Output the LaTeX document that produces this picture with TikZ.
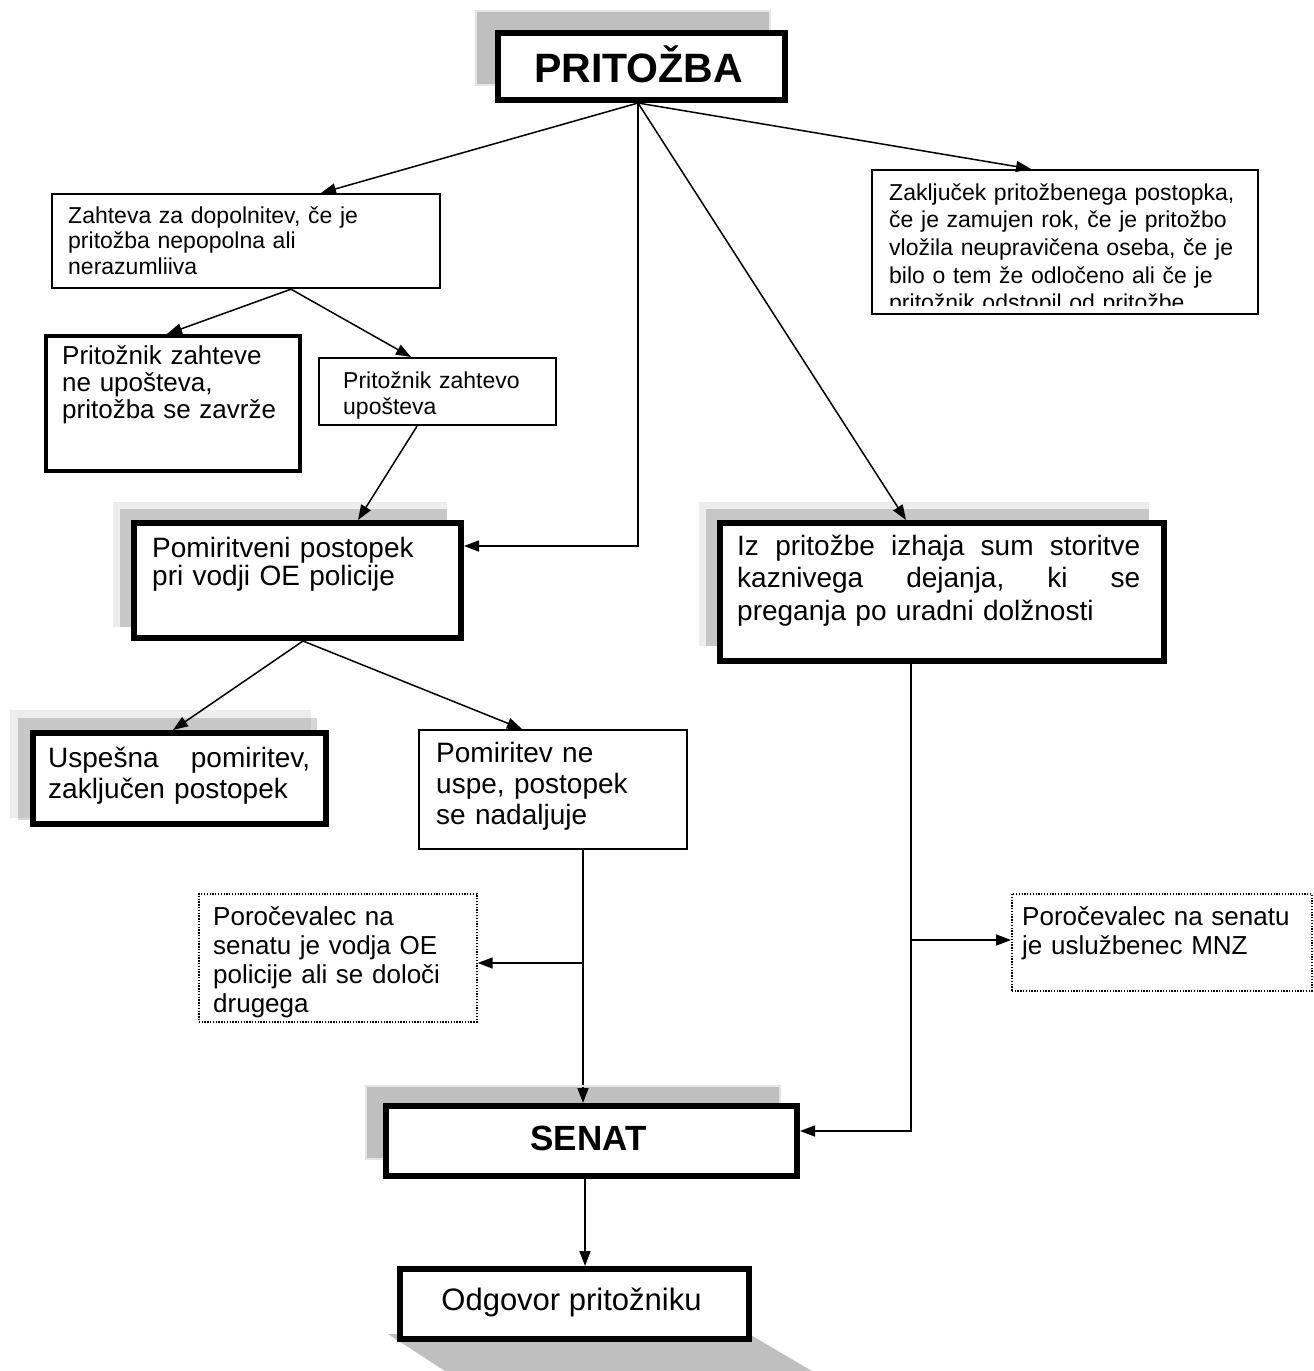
\documentclass[tikz,border=0pt]{standalone}
\usepackage{fontspec}
\setmainfont{Liberation Sans}
\usetikzlibrary{arrows.meta}
\newcommand\myfs[2]{\fontsize{#1}{#2}\selectfont}
\begin{document}
\begin{tikzpicture}[x=1pt,y=-1pt,
  conn/.style={line width=1.5pt},
  arr/.style={conn,-{Triangle[length=15pt,width=11pt]}},
  boldbox/.style={draw, line width=6pt, fill=white, inner sep=0pt, anchor=north west},
  midbox/.style={draw, line width=3.5pt, fill=white, inner sep=0pt, anchor=north west},
  thinbox/.style={draw, line width=2.2pt, fill=white, inner sep=0pt, anchor=north west},
  dotbox/.style={draw, line width=1.7pt, dash pattern=on 1.3pt off 1.5pt, fill=white, inner sep=0pt, anchor=north west},
  shadowsolid/.style={fill=black, fill opacity=0.25, draw=black!10, line width=1.2pt},
  shadowlight/.style={fill=black, fill opacity=0.07},
  shadowmid/.style={fill=black, fill opacity=0.16},
  txt/.style={anchor=base west, inner sep=0pt, align=left}
]
\useasboundingbox (0,0) rectangle (1314,1371);

% ---------- boxes ----------
\node[boldbox, minimum width=287pt, minimum height=67pt] (pri) at (495,30) {};
\node[thinbox, minimum width=388pt, minimum height=94pt] (zah) at (51,193) {};
\node[thinbox, minimum width=386pt, minimum height=144pt] (zak) at (871,169) {};
\node[midbox, minimum width=254pt, minimum height=135pt] (pzv) at (44,334) {};
\node[thinbox, minimum width=237pt, minimum height=67pt] (pzo) at (318,357) {};
\node[boldbox, minimum width=327pt, minimum height=115pt] (pom) at (131,520) {};
\node[boldbox, minimum width=444pt, minimum height=138pt] (izp) at (717,520) {};
\node[boldbox, minimum width=293pt, minimum height=91pt] (usp) at (30,730) {};
\node[thinbox, minimum width=268pt, minimum height=119pt] (pne) at (418,729) {};
\node[dotbox, minimum width=278pt, minimum height=128pt] (pl) at (198,893) {};
\node[dotbox, minimum width=300pt, minimum height=97pt] (pr) at (1011,893) {};
\node[boldbox, minimum width=411pt, minimum height=70pt] (sen) at (383,1103) {};
\node[boldbox, minimum width=349pt, minimum height=70pt] (odg) at (397,1266) {};

% ---------- junctions ----------
\coordinate (J) at ([xshift=-3.5pt]pri.south);
\coordinate (P) at ([xshift=165pt]pne.south west);
\coordinate (K) at (P |- 0,963);
\coordinate (Q) at ([xshift=194pt]izp.south west);
\coordinate (M) at (Q |- 0,940);
\coordinate (S) at ([xshift=202pt]sen.south west);

% ---------- connectors ----------
\draw[arr] (J) -- ([xshift=270pt]zah.north west);
\draw[arr] (J) -- ([xshift=160pt]zak.north west);
\draw[arr] (J) -- ([xshift=189pt]izp.north west);
\draw[arr] (J) |- ([yshift=-26pt]pom.north east);
\draw[arr] ([xshift=240pt]zah.south west) -- ([xshift=123pt]pzv.north west);
\draw[arr] ([xshift=240pt]zah.south west) -- ([xshift=93pt]pzo.north west);
\draw[arr] ([xshift=99pt]pzo.south west) -- ([xshift=227pt]pom.north west);
\draw[arr] ([xshift=172pt]pom.south west) -- ([xshift=143pt]usp.north west);
\draw[arr] ([xshift=172pt]pom.south west) -- ([xshift=104pt]pne.north west);
\draw[arr] (P) -- (P |- sen.north);
\draw[arr] (K) -- (K -| pl.east);
\draw[arr] (Q) |- ([yshift=-28pt]sen.north east);
\draw[arr] (M) -- (M -| pr.west);
\draw[arr] (S) -- (S |- odg.north);

% ---------- shadows ----------
\path[shadowsolid] (476,11) rectangle (770,85);
\path[shadowsolid] (366,1086) rectangle (780,1159);
\path[fill=black, fill opacity=0.25] (388,1334) -- (749,1334) -- (812,1371) -- (445,1371) -- cycle;
\path[shadowlight] (113,502) rectangle (447,627);
\path[shadowmid] (120,509) rectangle (447,627);
\path[shadowlight] (699,502) rectangle (1149,646);
\path[shadowmid] (706,509) rectangle (1149,646);
\path[shadowlight] (10,710) rectangle (311,818);
\path[shadowmid] (18,718) rectangle (317,820);

% ---------- boxes redrawn on top of shadows ----------
\node[boldbox, minimum width=287pt, minimum height=67pt] (pri2) at (495,30) {};
\node[boldbox, minimum width=327pt, minimum height=115pt] (pom2) at (131,520) {};
\node[boldbox, minimum width=444pt, minimum height=138pt] (izp2) at (717,520) {};
\node[boldbox, minimum width=293pt, minimum height=91pt] (usp2) at (30,730) {};
\node[boldbox, minimum width=411pt, minimum height=70pt] (sen2) at (383,1103) {};
\node[boldbox, minimum width=349pt, minimum height=70pt] (odg2) at (397,1266) {};

% ---------- texts ----------
\node[inner sep=0pt, font=\bfseries\myfs{41}{48}] (tpri) at (638.5,64) {PRITOŽBA};
\node[inner sep=0pt, font=\bfseries\myfs{35}{42}] (tsen) at (588.5,1138) {SENAT};
\node[inner sep=0pt, font=\myfs{31}{36}] (todg) at (571.5,1302) {Odgovor pritožniku};

\node[txt, text width=360pt, font=\myfs{23}{25.7}] (tzah) at (68,223)
  {Zahteva za dopolnitev, če je\\ pritožba nepopolna ali\\ nerazumliiva};
\begin{scope}
\clip (872,170) rectangle (1256,305);
\node[txt, text width=360pt, font=\myfs{23}{27.7}] (tzak) at (889,200)
  {Zaključek pritožbenega postopka,\\ če je zamujen rok, če je pritožbo\\ vložila neupravičena oseba, če je\\ bilo o tem že odločeno ali če je\\ pritožnik odstopil od pritožbe};
\end{scope}
\node[txt, text width=230pt, font=\myfs{26}{27}] (tpzv) at (62,364)
  {Pritožnik zahteve\\ ne upošteva,\\ pritožba se zavrže};
\node[txt, text width=210pt, font=\myfs{23}{26}] (tpzo) at (343,388)
  {Pritožnik zahtevo\\ upošteva};
\node[txt, text width=300pt, font=\myfs{28}{28.5}] (tpom) at (152,557)
  {Pomiritveni postopek\\ pri vodji OE policije};
\node[txt, text width=403pt, font=\myfs{28}{32.5}] (tizp) at (737,555)
  {Iz\hfill pritožbe\hfill izhaja\hfill sum\hfill storitve\\ kaznivega\hfill dejanja,\hfill ki\hfill se\\ preganja po uradni dolžnosti};
\node[txt, text width=262pt, font=\myfs{28}{31}] (tusp) at (48,767)
  {Uspešna\hfill pomiritev,\\ zaključen postopek};
\node[txt, text width=240pt, font=\myfs{28}{31}] (tpne) at (436,762)
  {Pomiritev ne\\ uspe, postopek\\ se nadaljuje};
\node[txt, text width=255pt, font=\myfs{26}{29.3}] (tpl) at (213,925)
  {Poročevalec na\\ senatu je vodja OE\\ policije ali se določi\\ drugega};
\node[txt, text width=285pt, font=\myfs{26}{29}] (tpr) at (1022,925)
  {Poročevalec na senatu\\ je uslužbenec MNZ};
\end{tikzpicture}
\end{document}
